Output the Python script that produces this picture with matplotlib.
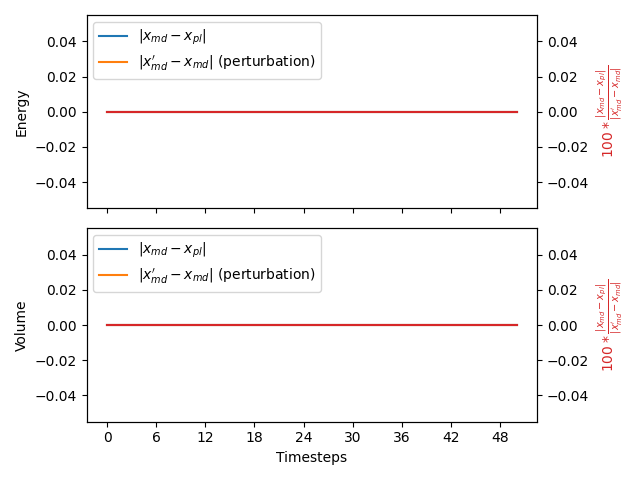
import matplotlib
matplotlib.use("Agg")
import matplotlib.pyplot as plt
import numpy as np

timesteps = list(range(0, 51))
energy_diff = [0.0] * 51
energy_pert = [0.0] * 51
energy_ratio = [0.0] * 51
volume_diff = [0.0] * 51
volume_pert = [0.0] * 51
volume_ratio = [0.0] * 51
xticks = list(range(0, 51, 6))

panels = [("Energy", energy_diff, energy_pert, energy_ratio),
          ("Volume", volume_diff, volume_pert, volume_ratio)]

fig, axes = plt.subplots(2, 1, sharex=True, figsize=(6.4, 4.8), dpi=100)
for ax, (name, d, p, r) in zip(axes, panels):
    ax.plot(timesteps, d, color="tab:blue", label=r"$|x_{md} - x_{pl}|$")
    ax.plot(timesteps, p, color="tab:orange", label=r"$|x^{\prime}_{md} - x_{md}|$ (perturbation)")
    ax.set_ylabel(name)
    ax.legend(loc="upper left")
    ax2 = ax.twinx()
    ax2.plot(timesteps, r, color="tab:red")
    ax2.set_ylabel(r"$100 * \frac{|x_{md} - x_{pl}|}{|x^{\prime}_{md} - x_{md}|}$", color="tab:red")
axes[1].set_xticks(xticks)
axes[1].set_xlabel("Timesteps")
fig.tight_layout()
fig.savefig("out.png")
